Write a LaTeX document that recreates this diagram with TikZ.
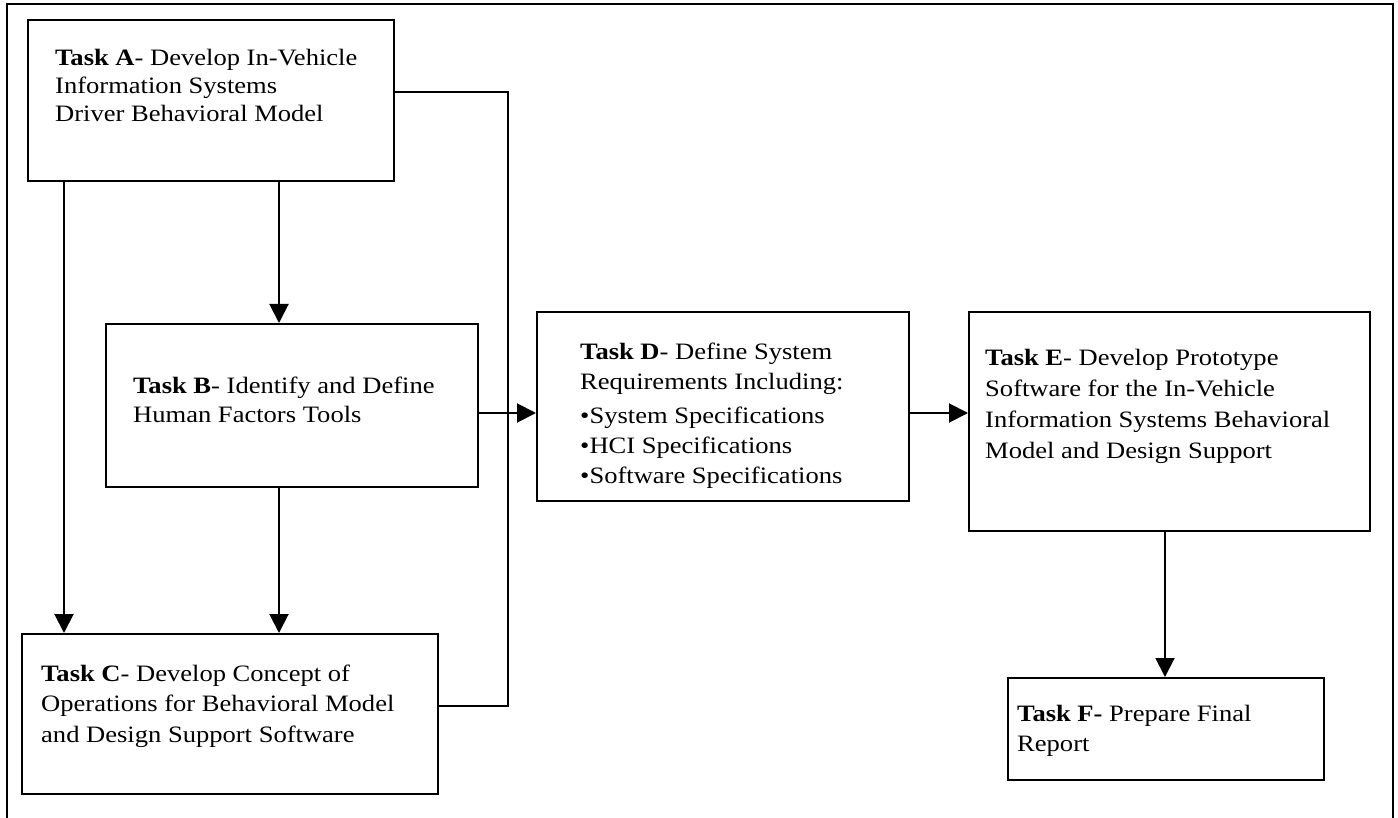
\documentclass[tikz,border=0pt]{standalone}
\usepackage{fontspec}
\setmainfont{Liberation Serif}[FakeStretch=1.13]
\usetikzlibrary{arrows.meta}
\begin{document}
\begin{tikzpicture}[x=1pt,y=-1pt,
  box/.style={draw, line width=2pt, rectangle, inner sep=0pt, anchor=north west},
  tasktext/.style={anchor=base west, inner sep=0pt, align=left},
  skip/.style={font=\fontsize{23.5}{#1}\selectfont},
  link/.style={line width=2pt},
  arr/.style={line width=2pt, -{Triangle[length=19pt,width=19pt]}}]
\useasboundingbox (0,0) rectangle (1398,818);

% outer frame
\draw[link] (7,822) -- (7,4) -- (1393,4) -- (1393,822);

% task boxes
\node[box, minimum width=366pt, minimum height=161pt] (A) at (27,19) {};
\node[box, minimum width=372pt, minimum height=163pt] (B) at (105,323) {};
\node[box, minimum width=416pt, minimum height=160pt] (C) at (21,633) {};
\node[box, minimum width=372pt, minimum height=189pt] (D) at (536,311) {};
\node[box, minimum width=401pt, minimum height=219pt] (E) at (968,311) {};
\node[box, minimum width=316pt, minimum height=102pt] (F) at (1007,677) {};

% task texts (placed at the baseline of their last line)
\node[tasktext, skip=28] (At) at (55,122) {\textbf{Task A}- Develop In-Vehicle\\Information Systems\\Driver Behavioral Model};
\node[tasktext, skip=29] (Bt) at (133,422) {\textbf{Task B}- Identify and Define\\Human Factors Tools};
\node[tasktext, skip=30.5] (Ct) at (41,742) {\textbf{Task C}- Develop Concept of\\Operations for Behavioral Model\\and Design Support Software};
\node[tasktext, skip=30] (Dt) at (580,483) {\textbf{Task D}- Define System\\Requirements Including:\\[4pt]•System Specifications\\•HCI Specifications\\•Software Specifications};
\node[tasktext, skip=31] (Et) at (985,458) {\textbf{Task E}- Develop Prototype\\Software for the In-Vehicle\\Information Systems Behavioral\\Model and Design Support};
\node[tasktext, skip=30] (Ft) at (1017,751) {\textbf{Task F-} Prepare Final\\Report};

% guide positions for connectors
\coordinate (xac) at (64,0);
\coordinate (xab) at (279,0);
\coordinate (bus) at (508,0);
\coordinate (xef) at (1165,0);
\coordinate (yaa) at (0,92);
\coordinate (ycc) at (0,706);
\coordinate (ybd) at (0,413);

% connectors
\draw[arr] (A.south -| xac) -- (C.north -| xac);
\draw[arr] (A.south -| xab) -- (B.north -| xab);
\draw[arr] (B.south -| xab) -- (C.north -| xab);
\draw[link] (A.east |- yaa) -- (bus |- yaa) -- (bus |- ycc) -- (C.east |- ycc);
\draw[arr] (B.east |- ybd) -- (D.west |- ybd);
\draw[arr] (D.east |- ybd) -- (E.west |- ybd);
\draw[arr] (E.south -| xef) -- (F.north -| xef);
\end{tikzpicture}
\end{document}
